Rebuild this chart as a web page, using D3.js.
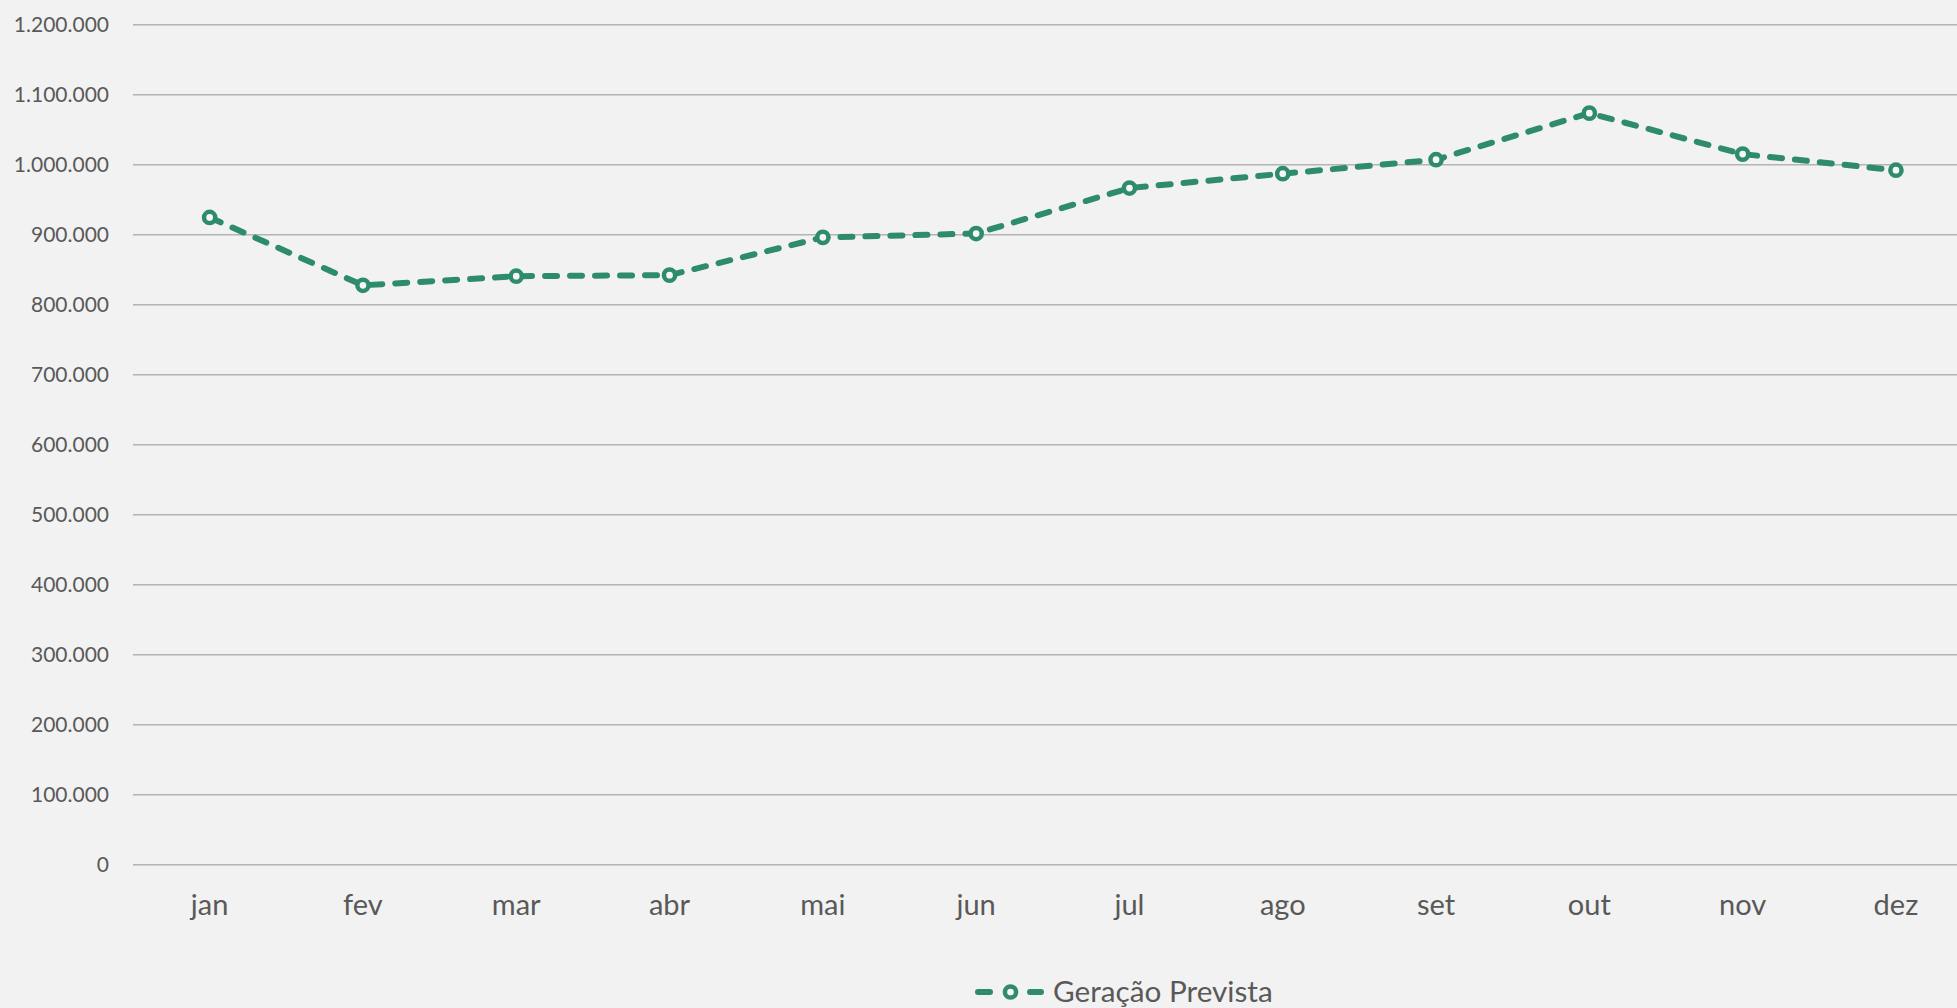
<!DOCTYPE html>
<html>
<head>
<meta charset="utf-8">
<script src="https://cdn.jsdelivr.net/npm/d3@7"></script>
<style>
  html, body { margin: 0; padding: 0; background: #f2f2f2; }
  svg { display: block; }
  text { font-family: Lato, "Noto Sans", sans-serif; fill: #595959; }
</style>
</head>
<body>
<svg id="chart" width="1957" height="1008"></svg>
<script>
const months = ["jan","fev","mar","abr","mai","jun","jul","ago","set","out","nov","dez"];
const geracaoPrevista = [924000, 827000, 840000, 841500, 895500, 901000, 966000, 986500, 1006500, 1073000, 1014500, 991500];
const yTicks = [0, 100000, 200000, 300000, 400000, 500000, 600000, 700000, 800000, 900000, 1000000, 1100000, 1200000];
const seriesName = "Geração Prevista";

const W = 1957, H = 1008;
const green = "#2e8b6d";
const svg = d3.select("#chart");
svg.append("rect").attr("width", W).attr("height", H).attr("fill", "#f2f2f2");

const plotLeft = 133, step = 153.3;
const x = d3.scaleBand().domain(months).range([plotLeft, plotLeft + step * months.length]).padding(0);
const y = d3.scaleLinear().domain([0, 1200000]).range([864, 24.3]);

const br = d3.formatLocale({decimal: ",", thousands: ".", grouping: [3], currency: ["R$", ""]});
const fmt = br.format(",.0f");

// gridlines
const grid = svg.append("g");
grid.selectAll("line.g1").data(yTicks).join("line")
  .attr("x1", plotLeft).attr("x2", W)
  .attr("y1", d => Math.round(y(d)) + 0.5).attr("y2", d => Math.round(y(d)) + 0.5)
  .attr("stroke", "#b4b4b4").attr("stroke-width", 1);
grid.selectAll("line.g2").data(yTicks).join("line")
  .attr("x1", plotLeft).attr("x2", W)
  .attr("y1", d => Math.round(y(d)) + 1.5).attr("y2", d => Math.round(y(d)) + 1.5)
  .attr("stroke", "#d2d2d2").attr("stroke-width", 1);

// y axis labels
const yAxis = d3.axisLeft(y).tickValues(yTicks).tickFormat(fmt).tickSize(0).tickPadding(0);
const yg = svg.append("g").attr("transform", "translate(109,0)").call(yAxis);
yg.select(".domain").remove();
yg.selectAll("text").attr("font-size", 21).attr("font-family", "Lato, sans-serif").attr("fill", "#595959").attr("dy", "0.36em");

// x axis labels
const xAxis = d3.axisBottom(x).tickSize(0).tickPadding(0);
const xg = svg.append("g").attr("transform", "translate(0,893)").call(xAxis);
xg.select(".domain").remove();
xg.selectAll("text").attr("font-size", 29).attr("font-family", "Lato, sans-serif").attr("fill", "#595959").attr("dy", "0.75em");

// line
const data = months.map((m, i) => ({m, v: geracaoPrevista[i]}));
const line = d3.line().x(d => x(d.m) + x.bandwidth() / 2).y(d => y(d.v));
svg.append("path").datum(data).attr("d", line)
  .attr("fill", "none").attr("stroke", green).attr("stroke-width", 6)
  .attr("stroke-dasharray", "12,13").attr("stroke-linecap", "round").attr("stroke-linejoin", "round");

svg.append("g").selectAll("circle").data(data).join("circle")
  .attr("cx", d => x(d.m) + x.bandwidth() / 2).attr("cy", d => y(d.v))
  .attr("r", 5.6).attr("fill", "#f6f6f6").attr("stroke", green).attr("stroke-width", 4.5);

// legend
const lg = svg.append("g");
const ly = 992;
lg.append("line").attr("x1", 978).attr("x2", 990).attr("y1", ly).attr("y2", ly)
  .attr("stroke", green).attr("stroke-width", 6).attr("stroke-linecap", "round");
lg.append("line").attr("x1", 1030).attr("x2", 1041).attr("y1", ly).attr("y2", ly)
  .attr("stroke", green).attr("stroke-width", 6).attr("stroke-linecap", "round");
lg.append("circle").attr("cx", 1010.5).attr("cy", ly).attr("r", 5.6)
  .attr("fill", "#f6f6f6").attr("stroke", green).attr("stroke-width", 4.5);
lg.append("text").attr("x", 1053).attr("y", 1002).attr("font-size", 29.7).text(seriesName);
</script>
</body>
</html>
